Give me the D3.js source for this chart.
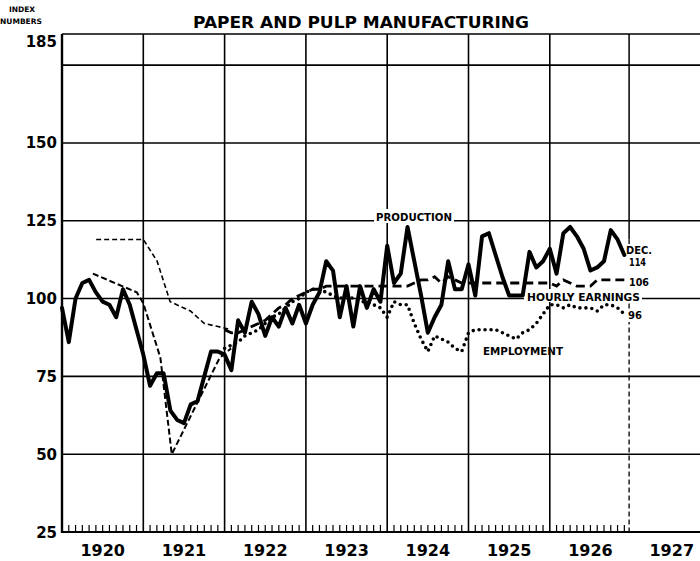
<!DOCTYPE html>
<html><head><meta charset="utf-8">
<script src="https://cdn.jsdelivr.net/npm/d3@7"></script>
<style>body{margin:0;background:#fff}svg{display:block}</style>
</head><body>
<svg id="c" width="700" height="561"></svg>
<script>
// ---- data ----
const years = [1920,1921,1922,1923,1924,1925,1926,1927];
const yTickLabels = [25,50,75,100,125,150,185];
const yGridValues = [50,75,100,125,150,175,185];

// monthly production index, Jan 1920 - Dec 1926
const production = [
  97, 86,100,105,106,102, 99, 98, 94,103, 98, 90,
  82, 72, 76, 76, 64, 61, 60, 66, 67, 75, 83, 83,
  82, 77, 93, 89, 99, 95, 88, 94, 91, 97, 92, 98,
  92, 98,102,112,109, 94,104, 91,104, 97,103, 99,
 117,105,108,123,112,101, 89, 94, 98,112,103,103,
 111,101,120,121,114,107,101,101,101,115,110,112,
 116,108,121,123,120,116,109,110,112,122,119,114
];

// hourly earnings, early (sparse) part
const earningsEarlyDates  = [1920.42,1921.0,1921.17,1921.33,1921.58,1921.75,1921.92,1922.08];
const earningsEarlyValues = [119,119,112,99,96,92,91,90];
// hourly earnings, monthly Jan 1922 - Dec 1926
const earnings = [
  90, 89, 89, 90, 91, 92, 93, 95, 97, 98,100,101,
 102,103,103,104,104,104,104,104,104,104,104,104,
 104,104,104,104,105,106,106,107,105,107,106,105,
 105,105,105,105,105,105,105,105,105,105,105,105,
 105,104,106,105,104,104,104,106,106,106,106,106
];

// employment, early (sparse) part
const employmentEarlyDates  = [1920.38,1920.92,1921.0,1921.21,1921.35,1921.94,1922.08];
const employmentEarlyValues = [108,102,98.5,81,50,81,84];
// employment, monthly Jan 1922 - Dec 1926
const employment = [
  84, 85, 86, 88, 89, 90, 92, 94, 95, 97, 99,100,
 102,103,103,102,101,100,101,100, 99, 99, 98, 97,
  94, 99, 98, 98, 92, 87, 83, 88, 87, 86, 84, 83,
  89, 90, 90, 90, 90, 89, 88, 87, 89, 90, 92, 95,
  98, 98, 97, 98, 97, 97, 97, 96, 98, 98, 97, 95
];

const endLabels = ["DEC.","114","106","96"];

// ---- drawing ----
const svg = d3.select("#c");
const F = "'DejaVu Sans', 'Liberation Sans', sans-serif";
const x = d3.scaleLinear().domain([1920,1928]).range([62, 712.4]);
const y = d3.scaleLinear().domain([25,185]).range([532, 34]);

const monthly = (arr, startYear) => arr.map((v,i)=>({t:startYear + i/12, v}));
const pairs = (ds, vs) => ds.map((t,i)=>({t, v:vs[i]}));
const line = d3.line().x(d=>x(d.t)).y(d=>y(d.v));

// horizontal gridlines
svg.append("g").selectAll("line").data(yGridValues).join("line")
  .attr("x1", x(1920)).attr("x2", 700)
  .attr("y1", d=>y(d)).attr("y2", d=>y(d))
  .attr("stroke","#000").attr("stroke-width",1.6);

// vertical year gridlines
svg.append("g").selectAll("line").data(years.slice(1,7)).join("line")
  .attr("x1", d=>x(d)).attr("x2", d=>x(d))
  .attr("y1", y(185)).attr("y2", y(25))
  .attr("stroke","#000").attr("stroke-width",1.6);
// 1927 line: solid on top, broken below
svg.append("line").attr("x1",x(1927)-2).attr("x2",x(1927)-2).attr("y1",y(185)).attr("y2",y(119))
  .attr("stroke","#000").attr("stroke-width",1.5);
svg.append("line").attr("x1",x(1927)-2).attr("x2",x(1927)-2).attr("y1",y(119)).attr("y2",y(25))
  .attr("stroke","#000").attr("stroke-width",1.3).attr("stroke-dasharray","5,3");

// axes
svg.append("line").attr("x1",x(1920)).attr("x2",x(1920)).attr("y1",y(185)).attr("y2",y(25)+1)
  .attr("stroke","#000").attr("stroke-width",2.4);
svg.append("line").attr("x1",x(1920)).attr("x2",700).attr("y1",y(25)).attr("y2",y(25))
  .attr("stroke","#000").attr("stroke-width",2);

// monthly ticks
const monthTicks = d3.range(1, 84).filter(k=>k%12!==0).map(k=>1920+k/12);
svg.append("g").selectAll("line").data(monthTicks).join("line")
  .attr("x1", d=>x(d)).attr("x2", d=>x(d))
  .attr("y1", y(25)).attr("y2", y(25)-7)
  .attr("stroke","#000").attr("stroke-width",1.2);

// y labels
svg.append("g").selectAll("text").data(yTickLabels).join("text")
  .attr("x", 57).attr("y", d=> d===185 ? y(d)+13 : y(d)+5.5)
  .attr("text-anchor","end").attr("font-family",F).attr("font-weight","bold")
  .attr("font-size",15).text(d=>d);

// year labels
svg.append("g").selectAll("text").data(years).join("text")
  .attr("x", d=>x(d+0.5)).attr("y", 556)
  .attr("text-anchor","middle").attr("font-family",F).attr("font-weight","bold")
  .attr("font-size",16).text(d=>d);

// header texts
svg.append("text").attr("x",22).attr("y",12).attr("text-anchor","middle")
  .attr("font-family",F).attr("font-weight","bold").attr("font-size",7.5).text("INDEX");
svg.append("text").attr("x",21).attr("y",24).attr("text-anchor","middle")
  .attr("font-family",F).attr("font-weight","bold").attr("font-size",7.5).text("NUMBERS");
svg.append("text").attr("x",361).attr("y",28).attr("text-anchor","middle")
  .attr("font-family",F).attr("font-weight","bold").attr("font-size",16)
  .attr("textLength",336).attr("lengthAdjust","spacingAndGlyphs")
  .text("PAPER AND PULP MANUFACTURING");

// label backgrounds
const bg = [[374,209,80,14],[524,289,118,13],[622,244,32,45],[624,309,22,13]];
svg.append("g").selectAll("rect").data(bg).join("rect")
  .attr("x",d=>d[0]).attr("y",d=>d[1]).attr("width",d=>d[2]).attr("height",d=>d[3])
  .attr("fill","#fff");

// series
svg.append("path").datum(pairs(earningsEarlyDates, earningsEarlyValues))
  .attr("d", line).attr("fill","none").attr("stroke","#000")
  .attr("stroke-width",1.6).attr("stroke-dasharray","5,3");
svg.append("path").datum(pairs(employmentEarlyDates, employmentEarlyValues))
  .attr("d", line).attr("fill","none").attr("stroke","#000")
  .attr("stroke-width",2).attr("stroke-dasharray","6,3");
svg.append("path").datum(monthly(employment,1922))
  .attr("d", line).attr("fill","none").attr("stroke","#000")
  .attr("stroke-width",3.6).attr("stroke-linecap","round").attr("stroke-dasharray","0,6");
svg.append("path").datum(monthly(earnings,1922))
  .attr("d", line).attr("fill","none").attr("stroke","#000")
  .attr("stroke-width",2.8).attr("stroke-dasharray","9,5");
svg.append("path").datum(monthly(production,1920))
  .attr("d", line).attr("fill","none").attr("stroke","#000")
  .attr("stroke-width",4).attr("stroke-linejoin","round").attr("stroke-linecap","round");

// series labels
const lab = (t,xx,yy,fs,len)=>svg.append("text").attr("x",xx).attr("y",yy)
  .attr("font-family",F).attr("font-weight","bold").attr("font-size",fs)
  .attr("textLength",len).attr("lengthAdjust","spacingAndGlyphs").text(t);
lab("PRODUCTION",376,221,11,76);
lab("HOURLY EARNINGS",527,300.5,11,113);
lab("EMPLOYMENT",483,355,10,80);
lab(endLabels[0],626,254,10,26);
lab(endLabels[1],629,266,10,17);
lab(endLabels[2],629,286,10,20);
lab(endLabels[3],628,319,10,14);
</script>
</body></html>
